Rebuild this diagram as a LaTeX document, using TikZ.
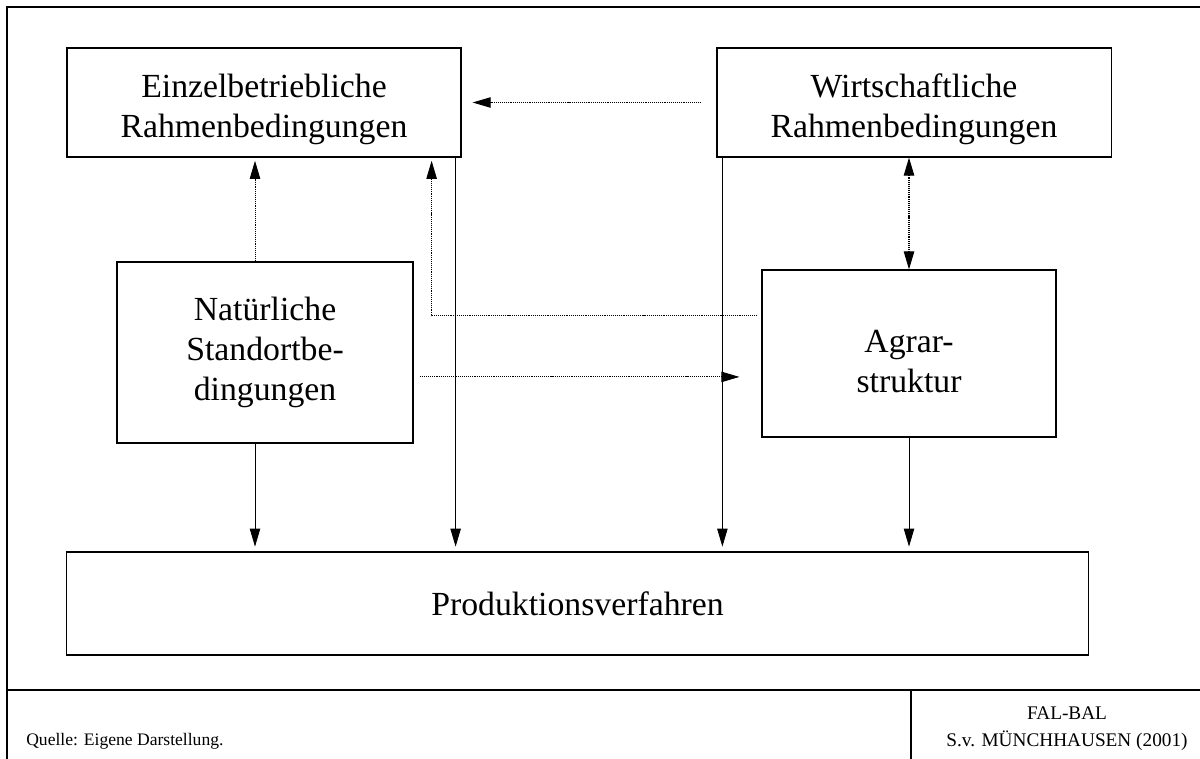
\documentclass[tikz,border=0pt]{standalone}
\usepackage{fontspec}
\setmainfont{Liberation Serif}
\usepackage{tikz}
\usetikzlibrary{arrows.meta}

\newcommand{\hochzeile}{\rule{0pt}{27pt}}

\begin{document}
\begin{tikzpicture}[x=0.025cm,y=-0.025cm,
        kasten/.style={draw,line width=0.8pt,inner sep=0pt,align=center,
            font=\fontsize{24}{28.5}\selectfont},
        spitze/.tip={Triangle[length=4.5mm,width=2.6mm]},
        pfeil/.style={line width=0.6pt,-spitze},
        punkt/.style={line width=0.8pt,dash pattern=on 0.8pt off 0.7pt}]
        \useasboundingbox (0,0) rectangle (1200,758);
        % Rahmen
        \draw[line width=0.8pt] (7,780) -- (7,7) -- (1220,7);
        \draw[line width=0.8pt] (7,690) -- (1220,690);
        \draw[line width=0.8pt] (911,690) -- (911,780);
        % Kaesten
        \node[kasten,minimum width=9.85cm,minimum height=2.725cm] (ebr) at (264,102.5) {\hochzeile Einzelbetriebliche\\Rahmenbedingungen};
        \node[kasten,minimum width=9.85cm,minimum height=2.725cm] (wr) at (914,102.5) {\hochzeile Wirtschaftliche\\Rahmenbedingungen};
        \node[kasten,minimum width=7.4cm,minimum height=4.525cm] (nsb) at (265,352.5) {Natürliche\\Standortbe-\\dingungen};
        \node[kasten,minimum width=7.35cm,minimum height=4.175cm] (as) at (909,353.5) {\hochzeile Agrar-\\struktur};
        \node[kasten,minimum width=25.525cm,minimum height=2.575cm] (pv) at (577.5,603.5) {Produktionsverfahren};
        % Fusszeile
        \node[anchor=base west,inner sep=0pt,font=\fontsize{12.5}{15}\selectfont] (quelle) at (26,745) {Quelle: Eigene Darstellung.};
        \node[anchor=base,inner sep=0pt,font=\fontsize{13.7}{16}\selectfont] (fal) at (1067,719) {FAL-BAL};
        \node[anchor=base,inner sep=0pt,font=\fontsize{13.7}{16}\selectfont] (autor) at (1067,746) {S.v. MÜNCHHAUSEN (2001)};
        % gepunktete Beziehungen
        \draw[punkt,pfeil,shorten <=0.375cm,shorten >=0.275cm] (wr.west) -- (ebr.east);
        \draw[punkt,pfeil,shorten >=0.08cm] ([xshift=-0.25cm]nsb.north) -- ([xshift=-0.25cm]nsb.north |- ebr.south);
        \draw[punkt,pfeil,shorten >=0.08cm] ([yshift=0.94cm,xshift=-0.1cm]as.west) -| ([xshift=-0.75cm]ebr.south east);
        \draw[punkt,pfeil,shorten <=0.15cm,shorten >=0.55cm] ([yshift=-0.61cm]nsb.east) -- ([yshift=-0.61cm]nsb.east -| as.west);
        \draw[punkt,spitze-spitze] (as.north |- wr.south) -- (as.north);
        % Wirkungen auf die Produktionsverfahren
        \draw[pfeil,shorten >=0.12cm] ([xshift=-0.25cm]nsb.south) -- ([xshift=-0.25cm]nsb.south |- pv.north);
        \draw[pfeil,shorten >=0.12cm] ([xshift=-0.15cm]ebr.south east) -- ([xshift=-0.15cm]ebr.south east |- pv.north);
        \draw[pfeil,shorten >=0.12cm] ([xshift=0.15cm]wr.south west) -- ([xshift=0.15cm]wr.south west |- pv.north);
        \draw[pfeil,shorten >=0.12cm] (as.south) -- (as.south |- pv.north);
    \end{tikzpicture}
\end{document}
